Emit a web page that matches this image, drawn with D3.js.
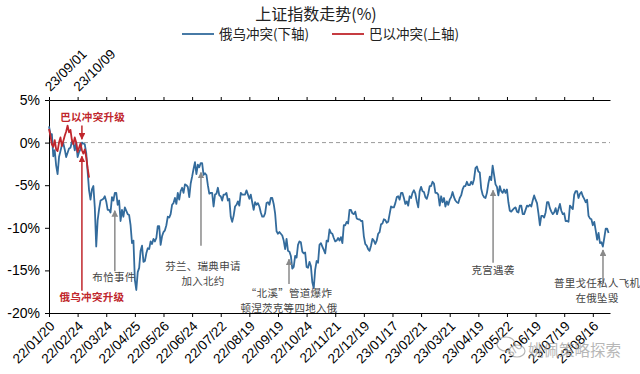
<!DOCTYPE html>
<html>
<head>
<meta charset="utf-8">
<script src="https://cdn.jsdelivr.net/npm/d3@7"></script>
<style>
  body { margin: 0; background: #fff; }
  svg text { font-family: "Liberation Sans", Arial, sans-serif; }
  .cjk { font-family: "Noto Sans CJK SC", "Noto Sans", sans-serif; }
  .axis path, .axis line { stroke: #000; }
</style>
</head>
<body>
<div id="chart"></div>
<script>
// bottom axis: trading days since 22/01/20, a label every 20 sessions
const ruDates = ['22/01/20', '22/02/24', '22/03/24', '22/04/25', '22/05/26', '22/06/24', '22/07/22',
  '22/08/19', '22/09/19', '22/10/24', '22/11/21', '22/12/19', '23/01/17', '23/02/21', '23/03/21',
  '23/04/19', '23/05/22', '23/06/19', '23/07/19', '23/08/16'];
// top axis: trading days since 23/09/01
const ilDates = ['23/09/01', '23/10/09'];
const yTicks = [5, 0, -5, -10, -15, -20];

// 俄乌冲突 (%), one value per trading day
const ruValues = [
  1.9, 1.0, 1.0, -1.6, -0.9, -2.7, -3.7, -1.7, -1.0, -0.3, -0.1, -0.8, -1.7, -1.2, -0.7, -0.6, 0.1, 0.0, -0.9, 0.0,
  -1.7, -1.1, -0.8, 0.0, -0.1, -0.2, -1.2, -3.4, -5.6, -6.7, -5.5, -5.1, -7.6, -12.2, -9.1, -7.8, -6.8, -6.7, -6.6, -6.3,
  -6.9, -7.9, -7.9, -8.2, -6.4, -6.8, -5.9, -5.9, -7.3, -6.8, -9.2, -7.9, -8.7, -7.6, -8.0, -8.4, -8.5, -9.7, -11.8, -11.5,
  -16.1, -17.3, -15.2, -14.7, -12.7, -12.1, -14.0, -13.9, -13.0, -12.4, -12.5, -11.6, -11.9, -11.3, -11.6, -11.2, -9.8, -9.8, -12.0, -11.0,
  -10.5, -10.3, -9.7, -8.7, -8.8, -8.4, -7.3, -7.1, -6.5, -7.2, -5.9, -6.7, -5.7, -5.3, -5.9, -4.9, -5.0, -5.2, -6.4, -4.8,
  -4.0, -3.1, -2.3, -3.7, -2.6, -2.9, -2.4, -2.4, -3.8, -3.6, -3.8, -5.0, -6.0, -5.9, -5.9, -7.5, -6.1, -6.0, -5.3, -6.2,
  -6.3, -6.8, -6.1, -6.1, -5.9, -6.8, -6.6, -8.7, -9.3, -8.6, -7.5, -7.3, -6.9, -7.4, -5.9, -6.1, -6.1, -6.1, -5.6, -6.1,
  -6.6, -6.1, -7.0, -7.9, -7.0, -7.3, -7.1, -7.5, -8.2, -8.7, -8.7, -8.3, -7.1, -7.0, -7.3, -6.5, -6.5, -7.2, -8.3, -10.4,
  -10.7, -10.5, -10.7, -10.9, -11.5, -12.5, -11.3, -12.7, -12.8, -13.3, -14.8, -14.6, -13.3, -13.5, -12.0, -11.6, -11.7, -12.8, -13.0, -12.9,
  -14.6, -14.7, -14.0, -14.5, -16.4, -17.1, -14.9, -13.9, -14.1, -12.0, -11.8, -12.2, -12.6, -13.0, -11.5, -11.6, -10.2, -10.6, -10.7, -11.2,
  -11.6, -11.5, -11.2, -11.5, -11.1, -11.8, -9.7, -9.7, -9.3, -9.5, -7.9, -7.9, -8.3, -8.4, -8.1, -8.9, -9.0, -9.0, -9.2, -9.2,
  -11.0, -11.9, -12.1, -12.5, -12.7, -12.1, -11.3, -11.5, -11.9, -11.5, -10.7, -10.5, -9.6, -9.5, -9.0, -9.1, -9.4, -9.3, -8.4, -7.5,
  -7.6, -7.6, -7.1, -6.4, -6.3, -6.7, -5.9, -5.9, -6.5, -7.2, -6.9, -7.4, -6.3, -6.5, -5.9, -5.6, -6.0, -6.9, -7.6, -5.7,
  -5.2, -5.7, -5.8, -6.4, -6.6, -6.0, -5.1, -5.1, -4.6, -4.8, -5.9, -5.9, -6.1, -7.4, -6.3, -7.0, -6.5, -7.5, -6.9, -7.3,
  -6.7, -6.4, -5.8, -6.4, -6.8, -7.0, -7.1, -6.5, -6.2, -5.5, -5.1, -5.1, -4.6, -5.0, -5.0, -4.6, -4.9, -4.3, -3.0, -2.8,
  -3.4, -3.5, -5.4, -6.1, -6.4, -6.5, -5.9, -4.8, -4.0, -4.4, -2.7, -3.8, -4.9, -5.2, -6.2, -5.1, -5.7, -5.9, -5.5, -5.9,
  -5.5, -7.0, -8.0, -8.1, -7.9, -7.7, -7.6, -8.1, -8.2, -7.4, -7.4, -8.4, -8.4, -7.9, -7.4, -7.5, -7.3, -7.5, -6.8, -6.2,
  -6.7, -7.1, -8.3, -9.7, -8.6, -8.6, -8.8, -8.2, -7.0, -7.0, -7.7, -8.1, -8.4, -8.2, -7.7, -8.4, -7.8, -7.2, -8.0, -8.4,
  -8.3, -9.2, -9.2, -9.3, -7.4, -7.6, -7.8, -6.1, -5.7, -5.7, -6.5, -6.0, -5.8, -6.3, -6.6, -7.0, -6.7, -8.6, -8.9, -9.0,
  -9.7, -9.3, -10.3, -11.4, -10.6, -11.8, -11.7, -12.2, -11.2, -10.1, -10.1, -10.6
];

// 巴以冲突 (%), one value per trading day
const ilValues = [
  1.6, 0.8, -0.2, -0.5, 0.3, -0.8, -1.0, 0.0, 0.6, -0.4, 0.2, 0.8, 1.3, 2.0, 1.2, 1.5, 0.3, -0.2, 0.6, 0.0,
  -1.1, -0.6, -0.1, -0.9, -1.3, -0.8, -1.7, -3.0, -4.1
];

// annotations: [text lines, text x (session), text y (%), arrow x (session), arrow from (%), arrow tip (%), red?]
const notes = [
  [['巴以冲突升级'], 30.5, 2.5, 23, 2.0, 0.4, true],
  [['俄乌冲突升级'], 30, -18.6, 23, -17.4, -1.6, true],
  [['布恰事件'], 45.4, -16.2, 46, -15.1, -8.0, false],
  [['芬兰、瑞典申请', '加入北约'], 107.6, -14.9, 106.2, -12.1, -3.5, false],
  [['“北溪”管道爆炸', '顿涅茨克等四地入俄'], 167.7, -18.1, 167.7, -16.6, -13.7, false],
  [['克宫遇袭'], 310.3, -15.4, 310.3, -14.1, -5.6, false],
  [['普里戈任私人飞机', '在俄坠毁'], 383, -17.0, 387.1, -16.5, -12.6, false]
];

const width = 640, height = 374;
const margin = { top: 100, right: 30, bottom: 61, left: 49 };
const blue = '#336b9c', red = '#c0262c', grey = '#8a8a8a';

const svg = d3.select('#chart').append('svg')
  .attr('width', width)
  .attr('height', height);

const x = d3.scaleLinear()
  .domain([0, 392])
  .range([margin.left, width - margin.right]);

const y = d3.scaleLinear()
  .domain([-20, 5])
  .range([height - margin.bottom, margin.top]);

const tickIdx = ruDates.map((d, i) => i * 20);

// title + legend
svg.append('text')
  .attr('class', 'cjk')
  .attr('x', 316).attr('y', 20)
  .attr('text-anchor', 'middle')
  .attr('font-size', 16)
  .attr('fill', '#222')
  .text('上证指数走势(%)');

const legend = [['俄乌冲突(下轴)', blue, 182], ['巴以冲突(上轴)', red, 332]];
legend.forEach(([label, color, lx]) => {
  svg.append('line')
    .attr('x1', lx).attr('x2', lx + 32)
    .attr('y1', 34).attr('y2', 34)
    .attr('stroke', color).attr('stroke-width', 1.8);
  svg.append('text')
    .attr('class', 'cjk')
    .attr('x', lx + 37).attr('y', 39)
    .attr('font-size', 13.5)
    .attr('fill', '#222')
    .text(label);
});

// zero line
svg.append('line')
  .attr('x1', x(0)).attr('x2', x(392))
  .attr('y1', y(0)).attr('y2', y(0))
  .attr('stroke', '#9a9a9a')
  .attr('stroke-dasharray', '4,3');

// y axis
svg.append('g')
  .attr('class', 'axis')
  .attr('transform', `translate(${margin.left},0)`)
  .call(d3.axisLeft(y).tickValues(yTicks).tickFormat(d => d + '%').tickSize(4).tickSizeOuter(0))
  .call(g => g.selectAll('text').attr('font-size', 14).attr('fill', '#000').attr('dx', -2));

// bottom axis
svg.append('g')
  .attr('class', 'axis')
  .attr('transform', `translate(0,${height - margin.bottom})`)
  .call(d3.axisBottom(x).tickValues(tickIdx).tickFormat((d, i) => ruDates[i]).tickSize(4).tickSizeOuter(0))
  .call(g => g.selectAll('text')
    .attr('font-size', 13.5)
    .attr('fill', '#000')
    .attr('text-anchor', 'end')
    .attr('dy', 0)
    .attr('y', 0)
    .attr('transform', 'translate(6,14) rotate(-45)'));

// top axis
svg.append('g')
  .attr('class', 'axis')
  .attr('transform', `translate(0,${margin.top})`)
  .call(d3.axisTop(x).tickValues(tickIdx).tickFormat((d, i) => ilDates[i] || '').tickSize(3).tickSizeOuter(0))
  .call(g => g.selectAll('text')
    .attr('font-size', 13.5)
    .attr('fill', '#000')
    .attr('text-anchor', 'start')
    .attr('dy', 0)
    .attr('y', 0)
    .attr('transform', 'translate(1,-8) rotate(-45)'));

// lines
const line = d3.line()
  .x((d, i) => x(i))
  .y(d => y(d));

svg.append('path')
  .datum(ruValues)
  .attr('fill', 'none')
  .attr('stroke', blue)
  .attr('stroke-width', 1.8)
  .attr('stroke-linejoin', 'round')
  .attr('d', line);

svg.append('path')
  .datum(ilValues)
  .attr('fill', 'none')
  .attr('stroke', red)
  .attr('stroke-width', 1.8)
  .attr('stroke-linejoin', 'round')
  .attr('d', line);

// arrow heads
const defs = svg.append('defs');
[['ah-red', red], ['ah-grey', grey]].forEach(([id, color]) => {
  defs.append('marker')
    .attr('id', id)
    .attr('viewBox', '0 0 10 10')
    .attr('refX', 9).attr('refY', 5)
    .attr('markerWidth', 4.5).attr('markerHeight', 4.5)
    .attr('markerUnits', 'strokeWidth')
    .attr('orient', 'auto')
    .append('path')
    .attr('d', 'M0,0L10,5L0,10z')
    .attr('fill', color);
});

// annotations
notes.forEach(([lines, tx, ty, ax, a0, a1, isRed]) => {
  svg.append('line')
    .attr('x1', x(ax)).attr('x2', x(ax))
    .attr('y1', y(a0)).attr('y2', y(a1))
    .attr('stroke', isRed ? red : grey)
    .attr('stroke-width', 1.5)
    .attr('marker-end', `url(#${isRed ? 'ah-red' : 'ah-grey'})`);
  lines.forEach((t, k) => {
    svg.append('text')
      .attr('class', 'cjk')
      .attr('x', x(tx))
      .attr('y', y(ty) + k * 15)
      .attr('text-anchor', 'middle')
      .attr('font-size', 10.5)
      .attr('letter-spacing', 0.3)
      .attr('font-weight', isRed ? 'bold' : 'normal')
      .attr('fill', isRed ? red : '#444')
      .text(t);
  });
});

// watermark
const wm = svg.append('g').attr('opacity', 0.7);
wm.append('ellipse').attr('cx', 506).attr('cy', 344).attr('rx', 9).attr('ry', 7)
  .attr('fill', 'none').attr('stroke', '#999').attr('stroke-width', 1.2);
wm.append('ellipse').attr('cx', 517).attr('cy', 351).attr('rx', 8).attr('ry', 6)
  .attr('fill', '#fff').attr('stroke', '#999').attr('stroke-width', 1.2);
wm.append('text')
  .attr('class', 'cjk')
  .attr('x', 528).attr('y', 356)
  .attr('font-size', 15.5)
  .attr('fill', '#999')
  .text('姚佩策略探索');
</script>
</body>
</html>
